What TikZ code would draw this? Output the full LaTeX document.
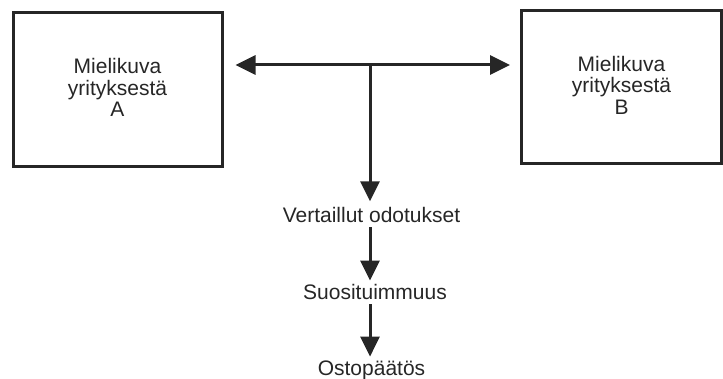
\documentclass[tikz,border=0pt]{standalone}
\usepackage{fontspec}
\setmainfont{Liberation Sans}
\usetikzlibrary{arrows.meta, positioning}
\tikzset{
    flowbase/.style={x=1pt, y=-1pt, font=\fontsize{21}{21.5}\selectfont, >={Triangle[length=20pt, width=19pt]}},
    imagebox/.style={rectangle, draw, line width=3pt, align=center, inner sep=0pt, text depth=5pt, text=black!85, draw=black!85},
    flowtext/.style={inner sep=4pt, anchor=base, text=black!85},
    line/.style={draw, ->, line width=3pt, color=black!85},
}

\begin{document}
\begin{tikzpicture}[flowbase]
\useasboundingbox (0,0) rectangle (723,379);

% ===================== IMAGE BOXES =====================
\node[imagebox, minimum width=209pt, minimum height=154pt] (a_box) at (117.5, 90) {Mielikuva\\yrityksestä\\A};
\node[imagebox, minimum width=200pt, minimum height=153pt] (b_box) at (621.5, 87.5) {Mielikuva\\yrityksestä\\B};

% ===================== COMPARISON FLOW =====================
\coordinate (t_join) at (370, 65);
\node[flowtext] (f_compare) at (371.5, 222.7) {Vertaillut odotukset};
\node[flowtext] (f_prefer) at (375, 300) {Suosituimmuus};
\node[flowtext] (f_buy) at (371.5, 375.5) {Ostopäätös};

\draw[line, shorten >=12pt] (t_join) -- (a_box.east |- t_join);
\draw[line, shorten >=10pt] (t_join) -- (b_box.west |- t_join);
\draw[line, shorten >=2pt] (t_join) -- (t_join |- f_compare.north);
\draw[line] (f_compare.south -| t_join) -- (f_prefer.north -| t_join);
\draw[line] (f_prefer.south -| t_join) -- (f_buy.north -| t_join);

\end{tikzpicture}
\end{document}
